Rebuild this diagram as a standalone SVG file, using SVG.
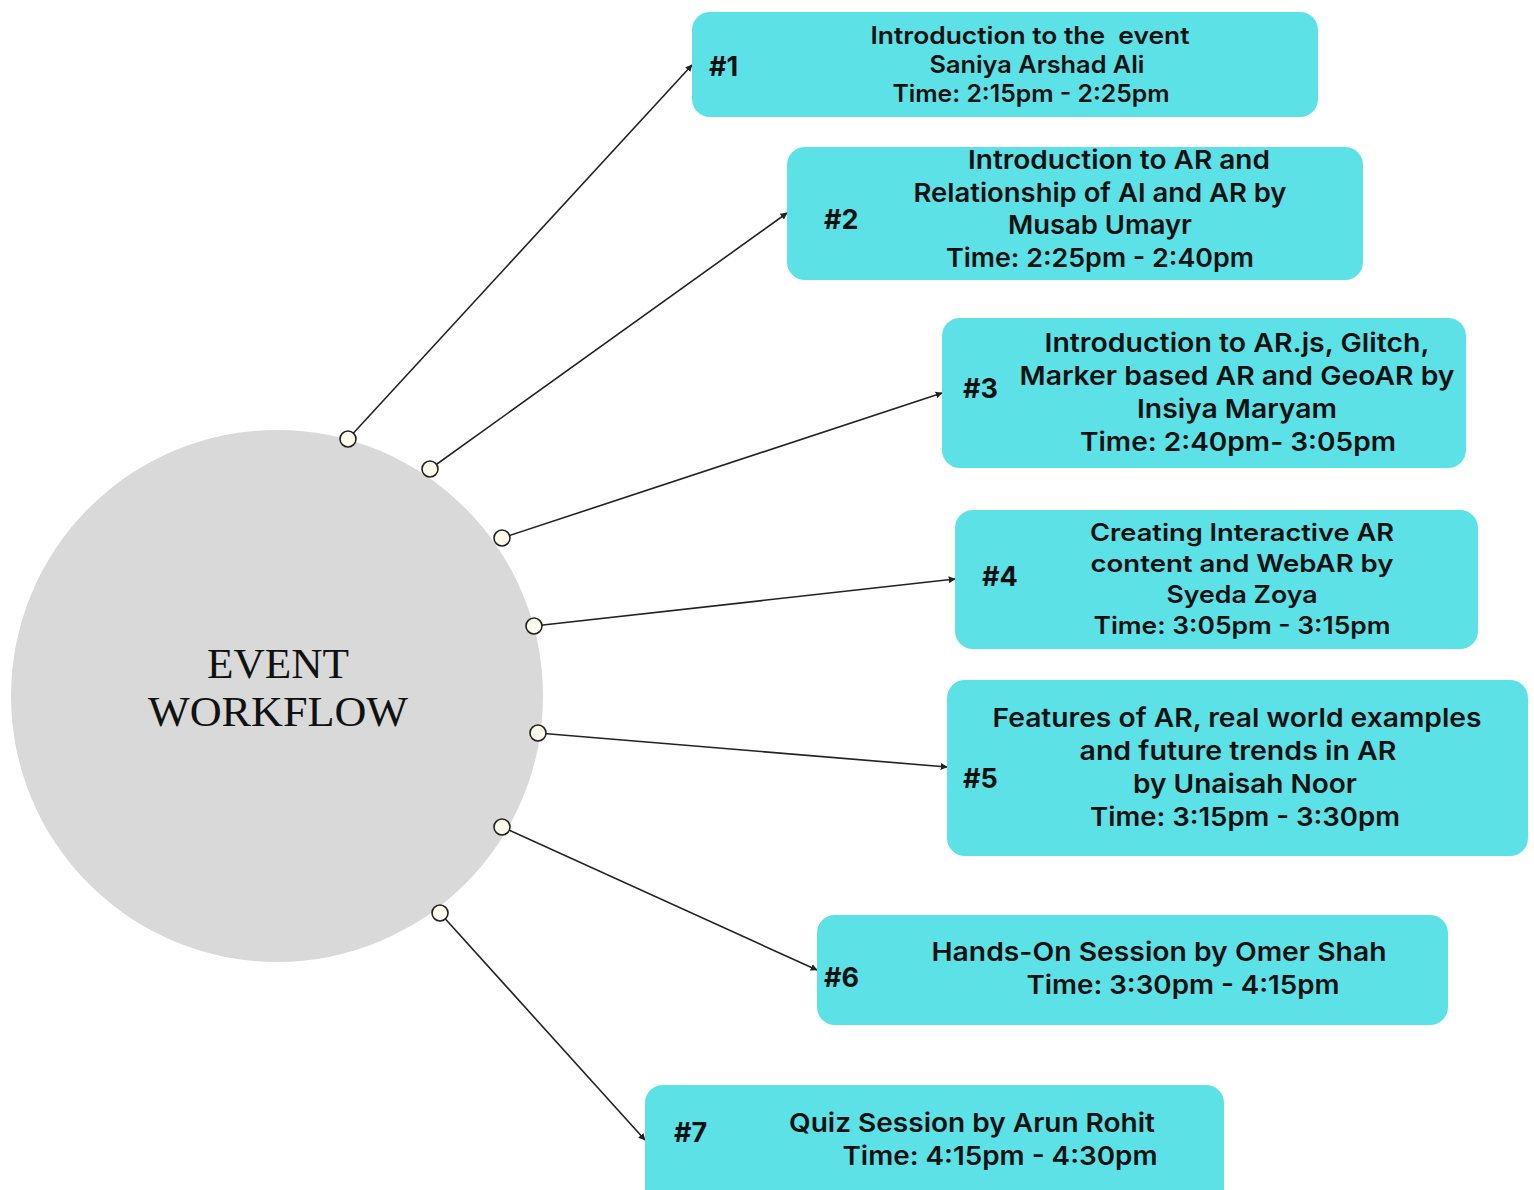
<svg xmlns="http://www.w3.org/2000/svg" width="1534" height="1190" viewBox="0 0 1534 1190">
<defs>
<marker id="arr" viewBox="0 0 10 10" refX="9" refY="5" markerWidth="7" markerHeight="7" markerUnits="userSpaceOnUse" orient="auto">
<path d="M0,0 L10,5 L0,10 z" fill="#222"/>
</marker>
<style>
.box{fill:#5ce1e6;}
.t{font-family:Inter,"Open Sans","Liberation Sans",sans-serif;font-weight:600;fill:#111;text-anchor:middle;}
.n{font-family:Inter,"Open Sans","Liberation Sans",sans-serif;font-weight:700;fill:#111;font-size:27px;}
.c{stroke:#222;stroke-width:1.6;fill:none;marker-end:url(#arr);}
.dot{fill:#fffbeb;stroke:#222;stroke-width:1.6;}
.hub{font-family:"Liberation Serif","Times New Roman",serif;font-size:42px;fill:#111;text-anchor:middle;}
</style>
</defs>
<rect width="1534" height="1190" fill="#ffffff"/>
<g id="hub">
<circle cx="277" cy="696" r="266" fill="#d9d9d9"/>
<text class="hub" x="278" y="678" textLength="142" lengthAdjust="spacingAndGlyphs">EVENT</text>
<text class="hub" x="278" y="726" textLength="260" lengthAdjust="spacingAndGlyphs">WORKFLOW</text>
</g>
<g id="connectors">
<line class="c" x1="348" y1="439" x2="692" y2="65"/>
<line class="c" x1="430" y1="469" x2="787" y2="213"/>
<line class="c" x1="502" y1="538" x2="942" y2="393"/>
<line class="c" x1="534" y1="626" x2="955" y2="579"/>
<line class="c" x1="538" y1="733" x2="947" y2="767"/>
<line class="c" x1="502" y1="827" x2="817" y2="970"/>
<line class="c" x1="440" y1="913" x2="645" y2="1140"/>
<circle class="dot" cx="348" cy="439" r="8"/>
<circle class="dot" cx="430" cy="469" r="8"/>
<circle class="dot" cx="502" cy="538" r="8"/>
<circle class="dot" cx="534" cy="626" r="8"/>
<circle class="dot" cx="538" cy="733" r="8"/>
<circle class="dot" cx="502" cy="827" r="8"/>
<circle class="dot" cx="440" cy="913" r="8"/>
</g>
<g id="node1">
<rect class="box" x="692" y="12" width="626" height="105" rx="18"/>
<text class="n" x="709" y="76">#1</text>
<text class="t" font-size="24" x="1030" y="44" textLength="319" lengthAdjust="spacingAndGlyphs" xml:space="preserve">Introduction to the  event</text>
<text class="t" font-size="24" x="1037" y="73" textLength="215" lengthAdjust="spacingAndGlyphs">Saniya Arshad Ali</text>
<text class="t" font-size="24" x="1031" y="102" textLength="277" lengthAdjust="spacingAndGlyphs">Time: 2:15pm - 2:25pm</text>
</g>
<g id="node2">
<rect class="box" x="787" y="147" width="576" height="133" rx="18"/>
<text class="n" x="824" y="229">#2</text>
<text class="t" font-size="26" x="1119" y="169" textLength="302" lengthAdjust="spacingAndGlyphs">Introduction to AR and</text>
<text class="t" font-size="26" x="1100" y="202" textLength="373" lengthAdjust="spacingAndGlyphs">Relationship of AI and AR by</text>
<text class="t" font-size="26" x="1100" y="234" textLength="184" lengthAdjust="spacingAndGlyphs">Musab Umayr</text>
<text class="t" font-size="26" x="1100" y="267" textLength="308" lengthAdjust="spacingAndGlyphs">Time: 2:25pm - 2:40pm</text>
</g>
<g id="node3">
<rect class="box" x="942" y="318" width="524" height="150" rx="18"/>
<text class="n" x="963" y="398">#3</text>
<text class="t" font-size="26" x="1237" y="352" textLength="385" lengthAdjust="spacingAndGlyphs">Introduction to AR.js, Glitch,</text>
<text class="t" font-size="26" x="1237" y="385" textLength="435" lengthAdjust="spacingAndGlyphs">Marker based AR and GeoAR by</text>
<text class="t" font-size="26" x="1237" y="418" textLength="200" lengthAdjust="spacingAndGlyphs">Insiya Maryam</text>
<text class="t" font-size="26" x="1238" y="451" textLength="316" lengthAdjust="spacingAndGlyphs">Time: 2:40pm- 3:05pm</text>
</g>
<g id="node4">
<rect class="box" x="955" y="510" width="523" height="139" rx="18"/>
<text class="n" x="982" y="586">#4</text>
<text class="t" font-size="24" x="1242" y="541" textLength="304" lengthAdjust="spacingAndGlyphs">Creating Interactive AR</text>
<text class="t" font-size="24" x="1242" y="572" textLength="303" lengthAdjust="spacingAndGlyphs">content and WebAR by</text>
<text class="t" font-size="24" x="1242" y="603" textLength="151" lengthAdjust="spacingAndGlyphs">Syeda Zoya</text>
<text class="t" font-size="24" x="1242" y="634" textLength="297" lengthAdjust="spacingAndGlyphs">Time: 3:05pm - 3:15pm</text>
</g>
<g id="node5">
<rect class="box" x="947" y="680" width="581" height="176" rx="18"/>
<text class="n" x="963" y="788">#5</text>
<text class="t" font-size="26" x="1237" y="727" textLength="489" lengthAdjust="spacingAndGlyphs">Features of AR, real world examples</text>
<text class="t" font-size="26" x="1238" y="760" textLength="317" lengthAdjust="spacingAndGlyphs">and future trends in AR</text>
<text class="t" font-size="26" x="1245" y="793" textLength="224" lengthAdjust="spacingAndGlyphs">by Unaisah Noor</text>
<text class="t" font-size="26" x="1245" y="826" textLength="310" lengthAdjust="spacingAndGlyphs">Time: 3:15pm - 3:30pm</text>
</g>
<g id="node6">
<rect class="box" x="817" y="915" width="631" height="110" rx="18"/>
<text class="n" x="824" y="987">#6</text>
<text class="t" font-size="26" x="1159" y="961" textLength="455" lengthAdjust="spacingAndGlyphs">Hands-On Session by Omer Shah</text>
<text class="t" font-size="26" x="1183" y="994" textLength="313" lengthAdjust="spacingAndGlyphs">Time: 3:30pm - 4:15pm</text>
</g>
<g id="node7">
<rect class="box" x="645" y="1085" width="579" height="125" rx="18"/>
<text class="n" x="674" y="1142">#7</text>
<text class="t" font-size="26" x="972" y="1132" textLength="366" lengthAdjust="spacingAndGlyphs">Quiz Session by Arun Rohit</text>
<text class="t" font-size="26" x="1000" y="1165" textLength="315" lengthAdjust="spacingAndGlyphs">Time: 4:15pm - 4:30pm</text>
</g>
</svg>
